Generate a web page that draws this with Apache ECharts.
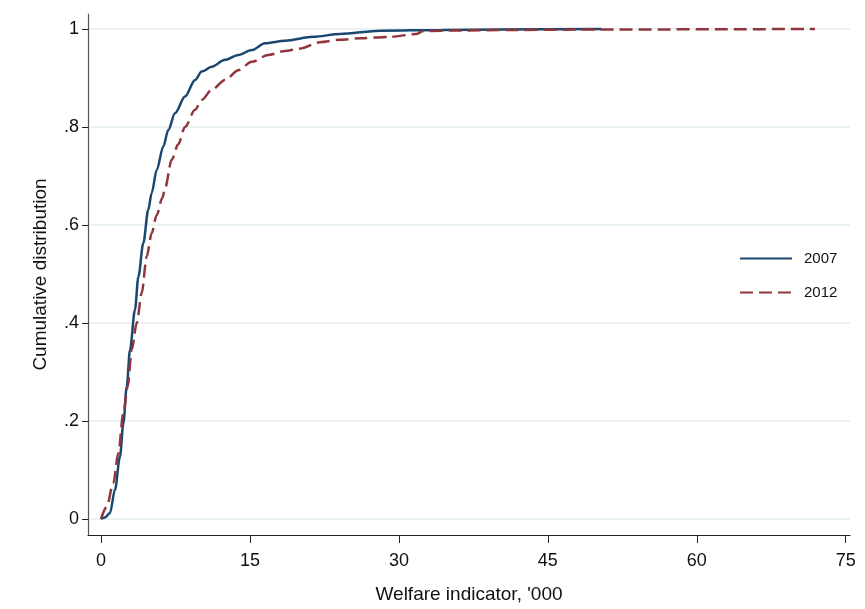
<!DOCTYPE html>
<html>
<head>
<meta charset="utf-8">
<script src="https://cdn.jsdelivr.net/npm/echarts@6/dist/echarts.min.js"></script>
<style>
  html, body { margin: 0; padding: 0; background: #fff; }
  #chart { width: 865px; height: 609px; }
</style>
</head>
<body>
<div id="chart"></div>
<script>
  // values (x in '000, y = cumulative share)
  var x2007 = [0, 0.4, 0.9, 1.41, 1.91, 2.25, 2.59, 2.92, 3.42, 3.76, 4.26, 4.76, 5.1, 5.61, 6.27, 6.78, 7.45, 8.46, 9.47, 10.14, 11.15, 12.49, 13.83, 15.18, 16.52, 18.53, 21.38, 24.07, 28.1, 34.4, 40, 50.4]
  var y2007 = [0, 0.003, 0.012, 0.06, 0.127, 0.195, 0.27, 0.345, 0.427, 0.494, 0.563, 0.631, 0.665, 0.712, 0.76, 0.794, 0.828, 0.862, 0.896, 0.913, 0.923, 0.937, 0.947, 0.957, 0.971, 0.976, 0.984, 0.99, 0.9965, 0.998, 0.999, 1]

  var x2012 = [0, 0.57, 1.24, 1.74, 2.25, 2.69, 3.09, 3.6, 4.1, 4.6, 5.1, 5.61, 6.17, 6.45, 7.12, 7.78, 8.46, 9.47, 10.14, 11.15, 12.49, 13.83, 15.18, 16.85, 18.53, 20.04, 22.05, 24.07, 26.08, 29.1, 31.79, 32.46, 36.45, 41.49, 50, 71.9]
  var y2012 = [0, 0.025, 0.073, 0.134, 0.216, 0.27, 0.345, 0.4, 0.461, 0.535, 0.583, 0.62, 0.655, 0.675, 0.733, 0.765, 0.8, 0.835, 0.855, 0.876, 0.896, 0.916, 0.933, 0.947, 0.955, 0.96, 0.973, 0.978, 0.981, 0.984, 0.99, 0.996, 0.997, 0.998, 0.999, 1]

  var xTicks = [0, 15, 30, 45, 60, 75]
  var yTicks = [0, 0.2, 0.4, 0.6, 0.8, 1]

  function pairs(xs, ys) {
    return xs.map(function (x, i) { return [x, ys[i]] })
  }

  var font = 'Liberation Sans, Arial, sans-serif'
  var chart = echarts.init(document.getElementById('chart'))

  chart.setOption({
    animation: false,
    backgroundColor: '#fff',
    grid: { left: 88, right: 15, top: 14, bottom: 74 },
    legend: {
      orient: 'vertical',
      left: 739,
      top: 251,
      padding: 0,
      itemWidth: 52,
      itemHeight: 14,
      itemGap: 19,
      itemStyle: { opacity: 0 },
      textStyle: { fontFamily: font, fontSize: 15, color: '#111', padding: [0, 0, 0, 7] },
      data: ['2007', '2012']
    },
    xAxis: {
      type: 'value',
      min: -1.309,
      max: 75.43,
      name: "Welfare indicator, '000",
      nameLocation: 'middle',
      nameGap: 50,
      nameTextStyle: { fontFamily: font, fontSize: 19, color: '#111' },
      axisLine: { show: true, onZero: false, lineStyle: { color: '#222', width: 1.2 } },
      axisTick: { show: true, length: 8, customValues: xTicks, lineStyle: { color: '#222' } },
      axisLabel: { customValues: xTicks, margin: 17, fontFamily: font, fontSize: 18, color: '#111' },
      splitLine: { show: false }
    },
    yAxis: {
      type: 'value',
      min: -0.03265,
      max: 1.0306,
      name: 'Cumulative distribution',
      nameLocation: 'middle',
      nameGap: 38,
      nameTextStyle: { fontFamily: font, fontSize: 19, color: '#111' },
      axisLine: { show: true, onZero: false, lineStyle: { color: '#555', width: 1.2 } },
      axisTick: { show: true, length: 6, customValues: yTicks, lineStyle: { color: '#222' } },
      axisLabel: {
        customValues: yTicks,
        margin: 9,
        fontFamily: font,
        fontSize: 18,
        color: '#111',
        formatter: function (v) {
          var s = String(Math.round(v * 10) / 10)
          return s.replace(/^0\./, '.')
        }
      },
      splitLine: { show: true, lineStyle: { color: '#eaf2f3', width: 2 } }
    },
    series: [
      {
        name: '2007',
        type: 'line',
        data: pairs(x2007, y2007),
        showSymbol: false,
        symbol: 'none',
        smooth: 0.3,
        smoothMonotone: 'x',
        color: '#1a476f',
        lineStyle: { color: '#1a476f', width: 2.5 }
      },
      {
        name: '2012',
        type: 'line',
        data: pairs(x2012, y2012),
        showSymbol: false,
        symbol: 'none',
        smooth: 0.3,
        smoothMonotone: 'x',
        color: '#90353b',
        lineStyle: { color: '#90353b', width: 2.5, type: [13, 6] }
      }
    ]
  })
</script>
</body>
</html>
